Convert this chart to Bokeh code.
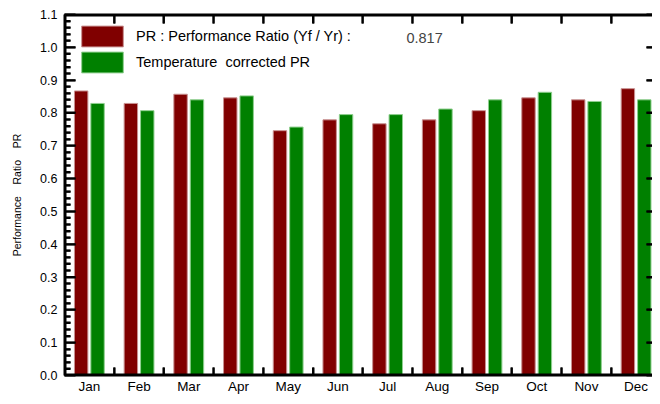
from bokeh.plotting import figure
from bokeh.models import (Range1d, LinearAxis, FixedTicker, NumeralTickFormatter, Legend,
                          LegendItem, Label, ColumnDataSource, CustomJSTickFormatter)
from bokeh.transform import dodge
from bokeh.embed import file_html
from bokeh.resources import INLINE

months = ["Jan", "Feb", "Mar", "Apr", "May", "Jun", "Jul", "Aug", "Sep", "Oct", "Nov", "Dec"]
pr = [0.867, 0.829, 0.857, 0.846, 0.746, 0.779, 0.767, 0.779, 0.807, 0.846, 0.840, 0.874]
pr_tc = [0.829, 0.807, 0.840, 0.852, 0.757, 0.795, 0.795, 0.812, 0.840, 0.863, 0.835, 0.840]
annual_pr = 0.817
y_ticks = [0.0, 0.1, 0.2, 0.3, 0.4, 0.5, 0.6, 0.7, 0.8, 0.9, 1.0, 1.1]
y_minor = [round(v * 0.02, 2) for v in range(0, 56) if v % 5]

x = list(range(1, len(months) + 1))
boundaries = [i + 0.5 for i in x[:-1]]
src = ColumnDataSource(dict(x=x, pr=pr, pr_tc=pr_tc))

FONT = "Liberation Sans"
X0, X1, Y0, Y1 = 0.5, 12.33, 0.0, 1.1

p = figure(width=652, height=396, output_backend="svg", toolbar_location=None,
           x_range=Range1d(X0, X1), y_range=Range1d(Y0, Y1),
           min_border_left=64, min_border_top=14, min_border_bottom=0, min_border_right=0)
p.outline_line_color = None
p.xgrid.visible = False
p.ygrid.visible = False

r1 = p.vbar(x=dodge("x", -0.165, range=p.x_range), top="pr", width=0.27, source=src,
            fill_color="#800000", line_color="#c89090", line_width=1)
r2 = p.vbar(x=dodge("x", 0.165, range=p.x_range), top="pr_tc", width=0.27, source=src,
            fill_color="#008000", line_color="#8fcf8f", line_width=1)

# frame lines and inward ticks, drawn as filled rects centred on the frame edges
# (the half outside the frame is clipped away)
K = dict(fill_color="black", line_color=None)
p.rect(x=[X0], y=[(Y0 + Y1) / 2], width=4, height=Y1 - Y0, width_units="screen", **K)
p.rect(x=[(X0 + X1) / 2], y=[Y0], width=X1 - X0, height=4, height_units="screen", **K)
p.rect(x=[(X0 + X1) / 2], y=[Y1], width=X1 - X0, height=4, height_units="screen", **K)
p.rect(x=[X0] * len(y_ticks), y=y_ticks, width=22, height=2,
       width_units="screen", height_units="screen", **K)
p.rect(x=[X0] * len(y_minor), y=y_minor, width=12, height=2,
       width_units="screen", height_units="screen", **K)
p.rect(x=[X1] * len(y_ticks), y=y_ticks, width=12, height=2,
       width_units="screen", height_units="screen", **K)
p.rect(x=boundaries, y=[Y0] * len(boundaries), width=2, height=16,
       width_units="screen", height_units="screen", **K)
p.rect(x=boundaries, y=[Y1] * len(boundaries), width=2, height=18,
       width_units="screen", height_units="screen", **K)

# bottom axis: month labels at centres, inward ticks at boundaries
xb = p.xaxis[0]
xb.ticker = FixedTicker(ticks=x, minor_ticks=boundaries)
xb.major_label_overrides = {i: m for i, m in zip(x, months)}
xb.major_tick_line_color = None
xb.major_tick_in = 0
xb.major_tick_out = 0
xb.minor_tick_in = 8
xb.minor_tick_out = 0
xb.minor_tick_line_width = 2
xb.minor_tick_line_color = "black"
xb.axis_line_width = 2
xb.axis_line_color = "black"
xb.major_label_standoff = 3
xb.axis_label_standoff = 0
xb.major_label_text_font = FONT
xb.major_label_text_font_size = "13.5px"
xb.major_label_text_color = "black"

# left axis
yl = p.yaxis[0]
yl.ticker = FixedTicker(ticks=y_ticks, minor_ticks=y_minor)
yl.formatter = NumeralTickFormatter(format="0.0")
yl.major_tick_in = 11
yl.major_tick_out = 0
yl.minor_tick_in = 6
yl.minor_tick_out = 0
yl.major_tick_line_width = 2
yl.minor_tick_line_width = 2
yl.major_tick_line_color = "black"
yl.minor_tick_line_color = "black"
yl.axis_line_width = 2
yl.axis_line_color = "black"
yl.major_label_standoff = 7
yl.major_label_text_font = FONT
yl.major_label_text_font_size = "12.5px"
yl.major_label_text_color = "black"
yl.axis_label = "Performance\u00a0\u00a0\u00a0 Ratio\u00a0\u00a0\u00a0 PR"
yl.axis_label_text_font = FONT
yl.axis_label_text_font_size = "10.5px"
yl.axis_label_text_font_style = "normal"
yl.axis_label_text_color = "black"
yl.axis_label_standoff = 14

# top axis: inward ticks at boundaries only
xt = LinearAxis(ticker=FixedTicker(ticks=[], minor_ticks=boundaries))
xt.major_tick_in = 0
xt.major_tick_out = 0
xt.minor_tick_in = 9
xt.minor_tick_out = 0
xt.minor_tick_line_width = 2
xt.minor_tick_line_color = "black"
xt.axis_line_width = 2
xt.axis_line_color = "black"
xt.major_label_standoff = 0
xt.axis_label_standoff = 0
p.add_layout(xt, "above")

# right axis: inward major ticks only, no labels
yr = LinearAxis(ticker=FixedTicker(ticks=y_ticks),
                formatter=CustomJSTickFormatter(code="return ''"))
yr.axis_line_color = None
yr.major_tick_in = 6
yr.major_tick_out = 0
yr.major_tick_line_width = 2
yr.major_tick_line_color = "black"
yr.minor_tick_line_color = None
yr.major_label_standoff = 0
yr.axis_label_standoff = 0
p.add_layout(yr, "right")

legend = Legend(items=[LegendItem(label="PR : Performance Ratio (Yf / Yr) :", renderers=[r1]),
                       LegendItem(label="Temperature\u00a0 corrected PR", renderers=[r2])],
                location=(12, 300), orientation="vertical")
legend.margin = 0
legend.padding = 0
legend.glyph_width = 52
legend.glyph_height = 26
legend.label_height = 21
legend.spacing = -5
legend.label_standoff = 8
legend.label_text_font = FONT
legend.label_text_font_size = "14.5px"
legend.label_text_color = "black"
legend.border_line_color = None
legend.background_fill_alpha = 0
p.add_layout(legend, "center")

p.add_layout(Label(x=7.38, y=1.027, text=f"{annual_pr:.3f}", text_font=FONT,
                   text_font_size="14.5px", text_baseline="middle", text_align="left"))

open("out.html", "w").write(file_html(p, INLINE))
